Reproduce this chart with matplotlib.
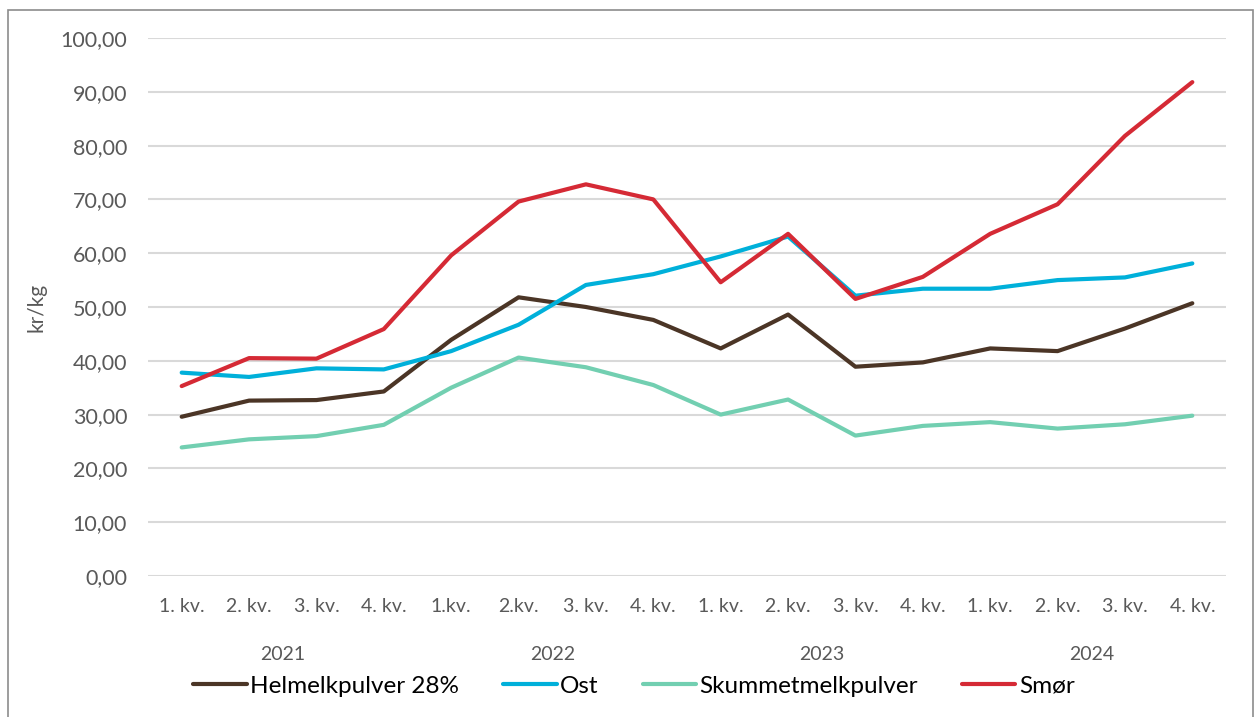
import matplotlib.pyplot as plt
from matplotlib.patches import Rectangle
import numpy as np

plt.rcParams['font.family'] = ['Lato', 'DejaVu Sans']

kvartal = ["1. kv.", "2. kv.", "3. kv.", "4. kv.", "1.kv.", "2.kv.", "3. kv.", "4. kv.",
           "1. kv.", "2. kv.", "3. kv.", "4. kv.", "1. kv.", "2. kv.", "3. kv.", "4. kv."]
aar = ["2021", "2022", "2023", "2024"]

helmelk = [29.6, 32.6, 32.7, 34.3, 43.9, 51.8, 50.0, 47.6, 42.3, 48.6, 38.9, 39.7, 42.3, 41.8, 46.0, 50.7]
ost = [37.8, 37.0, 38.6, 38.4, 41.8, 46.7, 54.1, 56.1, 59.4, 63.1, 52.1, 53.4, 53.4, 55.0, 55.5, 58.1]
skummet = [23.9, 25.4, 26.0, 28.1, 35.0, 40.6, 38.8, 35.5, 30.0, 32.8, 26.1, 27.9, 28.6, 27.4, 28.2, 29.8]
smor = [35.3, 40.5, 40.4, 45.9, 59.6, 69.6, 72.8, 70.0, 54.6, 63.6, 51.5, 55.6, 63.6, 69.1, 81.8, 91.8]

serier = ["Helmelkpulver 28%", "Ost", "Skummetmelkpulver", "Smør"]
farger = ["#4b3526", "#00b0da", "#72cfb1", "#d52a35"]

W, H = 1257, 717
fig = plt.figure(figsize=(W/100, H/100), dpi=100)
# ramme rundt diagrammet (nederste kant er utenfor bildet)
fig.add_artist(Rectangle((8/W, -0.01), (1253-8)/W, 1 - 10/H + 0.01, transform=fig.transFigure,
                         fill=False, edgecolor="#8c8c8c", lw=1.2))

ax = fig.add_axes([148/W, 1 - 576/H, (1226-148)/W, (576-38)/H])

x = np.arange(len(kvartal))
for data, navn, farge in zip([helmelk, ost, skummet, smor], serier, farger):
    ax.plot(x, data, color=farge, lw=3, label=navn, solid_capstyle="round")

ax.set_xlim(-0.5, len(kvartal) - 0.5)
ax.set_ylim(0, 100)
ax.set_yticks(np.arange(0, 101, 10))
ax.set_yticklabels([f"{v:.2f}".replace(".", ",") for v in np.arange(0, 101, 10)])
ax.set_xticks(x)
ax.set_xticklabels(kvartal)
ax.tick_params(axis="both", length=0, colors="#595959")
ax.tick_params(axis="x", pad=16, labelsize=14)
ax.tick_params(axis="y", pad=15, labelsize=15.5)
ax.grid(axis="y", color="#d9d9d9", lw=1.5)
ax.set_axisbelow(True)
for s in ax.spines.values():
    s.set_visible(False)

for i, a in enumerate(aar):
    ax.text(4*i + 1.5, -78/538, a, transform=ax.get_xaxis_transform(),
            ha="center", va="center", fontsize=14, color="#595959")

ax.set_ylabel("kr/kg", fontsize=15, color="#595959")
ax.yaxis.set_label_coords((47 - 148)/1078, 0.5)

ax.legend(loc="center", bbox_to_anchor=(634/W, 1 - 686/H), bbox_transform=fig.transFigure,
          ncol=4, frameon=False, fontsize=17.5, handlelength=2.2, handletextpad=0.15,
          columnspacing=1.8, borderpad=0)

fig.savefig("out.png", dpi=100)
